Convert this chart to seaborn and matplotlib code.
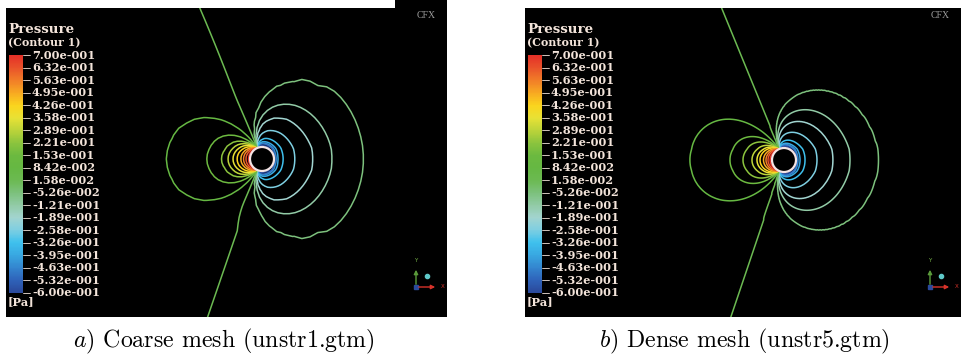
import numpy as np
import matplotlib
matplotlib.use("Agg")
import matplotlib.pyplot as plt
import seaborn as sns
from matplotlib.patches import Circle, Rectangle
from matplotlib.colors import Normalize

# CFX legend levels (Pa), top to bottom
levels = [0.700, 0.632, 0.563, 0.495, 0.426, 0.358, 0.289, 0.221, 0.153, 0.0842,
          0.0158, -0.0526, -0.121, -0.189, -0.258, -0.326, -0.395, -0.463, -0.532, -0.600]
tick_labels = ["7.00e-001", "6.32e-001", "5.63e-001", "4.95e-001", "4.26e-001",
               "3.58e-001", "2.89e-001", "2.21e-001", "1.53e-001", "8.42e-002",
               "1.58e-002", "-5.26e-002", "-1.21e-001", "-1.89e-001", "-2.58e-001",
               "-3.26e-001", "-3.95e-001", "-4.63e-001", "-5.32e-001", "-6.00e-001"]

# legend colours, bottom (-0.6) to top (0.7)
legend_colors = ["#2b4a9c", "#2f64bb", "#3487d0", "#39a9e2", "#3fc1ee", "#7fcfe2",
                 "#a3d5d0", "#92cba6", "#7cc17c", "#6cba52", "#66b843", "#6cba40",
                 "#8cc43e", "#bcd43a", "#e8e236", "#fbd51e", "#f8ab22", "#f27f28",
                 "#ea552b", "#e53128"]

# distance (px) each contour reaches away from the cylinder
coarse_reach = [9, 11, 13.5, 16, 20, 24, 29, 35, 50, 90, 6000,
                105, 75, 56, 38, 26, 21, 19, 18, 16]
dense_reach = [9, 11, 13, 15.5, 19, 22, 27, 36, 49, 89, 6000,
               99, 71, 54, 38, 26, 21, 19, 18, 16]

# lean of the near-zero line above / below the cylinder (dx per dy)
coarse_lean = [0.32, 0.31]
dense_lean = [0.38, 0.30]

captions = [r"$a)$ Coarse mesh (unstr1.gtm)", r"$b)$ Dense mesh (unstr5.gtm)"]

FIG_W, FIG_H = 961, 355
CYL_R = 12.0
text_col = "#f3e4da"
legend_font = "DejaVu Serif"

sns.set_theme(style="dark")
plt.rcParams["mathtext.fontset"] = "cm"
cmap = sns.blend_palette(legend_colors, as_cmap=True)
norm = Normalize(-0.6, 0.7)


def pressure(X, Y, reach, lean, k_left, k_right):
    # every contour is an arc through the two points where the
    # near-zero line meets the cylinder (5 px left of its centre)
    b = np.sqrt(CYL_R ** 2 - 25.0)
    u = X + 5.0
    c = np.where(Y < 0, lean[0], lean[1])
    s = c * np.clip(np.abs(Y) - b, 0, None)
    t = u + s
    L = 80.0
    us = np.where(t < 0, (u + s * np.exp(t / L)) * k_left,
                  (u + s * np.exp(-t / L)) * k_right)
    z = us + 1j * Y
    sig = np.angle((z - 1j * b) / (z + 1j * b))
    knots, vals = [np.pi, -np.pi, 0.0], [0.76, -0.66, -0.02]
    for lv, rc in zip(levels, reach):
        if lv > 0:
            knots.append(2 * np.arctan(b / (k_left * rc)))
        else:
            knots.append(-2 * np.arctan(b / (k_right * rc)))
        vals.append(lv)
    order = np.argsort(knots)
    return np.interp(sig, np.array(knots)[order], np.array(vals)[order])


def draw_panel(x0, y0, w, h, cx, cy, reach, lean, n_r, n_t, k_left, k_right,
               caption, cap_x):
    ax = fig.add_axes([x0 / FIG_W, 1 - (y0 + h) / FIG_H, w / FIG_W, h / FIG_H])
    ax.set_facecolor("black")
    ax.set_xticks([])
    ax.set_yticks([])
    for s in ax.spines.values():
        s.set_visible(False)

    r = np.geomspace(CYL_R, 360, n_r)
    t = np.linspace(-np.pi, np.pi, n_t)
    R, T = np.meshgrid(r, t)
    X, Y = R * np.cos(T), R * np.sin(T)
    P = pressure(X, Y, reach, lean, k_left, k_right)
    ax.contour(X + cx, Y + cy, P, levels=sorted(levels), cmap=cmap, norm=norm,
               linewidths=1.1)
    ax.add_patch(Circle((cx, cy), CYL_R, facecolor="black", edgecolor="#f4e4e4",
                        lw=1.6, zorder=3))

    # legend
    grad = np.linspace(0.7, -0.6, 200).reshape(-1, 1)
    ax.imshow(grad, cmap=cmap, norm=norm, extent=[3, 17, 285, 47], aspect="auto",
              zorder=4)
    ys = np.linspace(47, 285, len(levels))
    for yv, lab in zip(ys, tick_labels):
        ax.plot([17, 24], [yv, yv], color=text_col, lw=0.6, zorder=4)
        ax.text(26, yv, lab, color=text_col, fontsize=8.2, fontweight="bold",
                family=legend_font, va="center", ha="left", zorder=5)
    ax.text(2, 25, "Pressure", color=text_col, fontsize=9.6, fontweight="bold",
            family=legend_font, va="baseline")
    ax.text(2, 38.5, "(Contour 1)", color=text_col, fontsize=7.9, fontweight="bold",
            family=legend_font, va="baseline")
    ax.text(2, 294, "[Pa]", color=text_col, fontsize=8.2, fontweight="bold",
            family=legend_font, va="center")
    ax.text(w - 30, 7, "CFX", color="#9c9c9c", fontsize=7, family="Liberation Serif",
            va="center", ha="left", clip_on=True)

    # axis triad
    ox, oy = w - 31, 279
    ax.annotate("", xy=(ox, oy - 20), xytext=(ox, oy),
                arrowprops=dict(arrowstyle="-|>", color="#5a9a3a", lw=1, mutation_scale=6))
    ax.annotate("", xy=(ox + 22, oy), xytext=(ox, oy),
                arrowprops=dict(arrowstyle="-|>", color="#d8332a", lw=1, mutation_scale=6))
    ax.plot(ox, oy, "s", color="#2a4a9c", ms=3)
    ax.plot(ox + 11, oy - 11, "o", color="#5fc9c9", ms=3)
    ax.text(ox, oy - 26, "Y", color="#7ab84a", fontsize=4, ha="center", va="center")
    ax.text(ox + 27, oy, "X", color="#d8332a", fontsize=4, ha="center", va="center",
            clip_on=True)

    ax.set_xlim(0, w)
    ax.set_ylim(h, 0)
    fig.text(cap_x / FIG_W, 1 - 341 / FIG_H, caption, fontsize=17.2, family="cmr10",
             ha="center", va="center", color="black")
    return ax


fig = plt.figure(figsize=(FIG_W / 100, FIG_H / 100), dpi=100)
fig.patch.set_facecolor("white")
fig.patches.append(Rectangle((395 / FIG_W, 1 - 8 / FIG_H), 52 / FIG_W, 8 / FIG_H,
                             transform=fig.transFigure, facecolor="black", lw=0))

draw_panel(6, 8, 441, 309, 256, 151, coarse_reach, coarse_lean, 36, 72, 0.9, 1.45,
           captions[0], 224)
draw_panel(525, 8, 436, 309, 259, 152, dense_reach, dense_lean, 220, 400, 0.9, 1.4,
           captions[1], 744)

fig.savefig("out.png", dpi=100, facecolor="white")
